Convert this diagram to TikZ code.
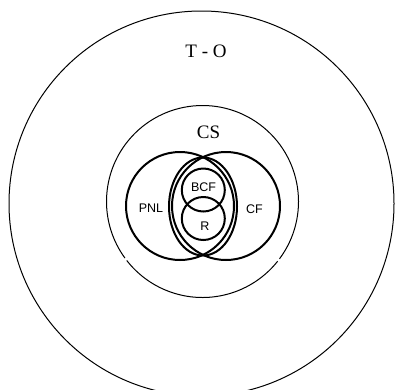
\documentclass[tikz,border=0pt]{standalone}
\usepackage{fontspec}
\setmainfont{Liberation Serif}
\newfontfamily\lsans{Liberation Sans}
\begin{document}
\begin{tikzpicture}[x=1pt,y=-1pt,
  thinline/.style={line width=1pt},
  thickline/.style={line width=2pt},
  seriflabel/.style={font=\fontsize{19}{19}\selectfont, inner sep=0pt},
  sanslabel/.style={font=\lsans\fontsize{12.5}{12.5}\selectfont, inner sep=0pt}]
\useasboundingbox (0,0) rectangle (395,389);
\clip (0,0) rectangle (395,389);
% outer circle T-O
\draw[thinline] (201.5,203.5) circle[radius=192.5pt];
% CS circle with two small gaps
\draw[thinline] (202.5,201.5) ++(-36.7:96pt) arc[start angle=-36.7, end angle=216.1, radius=96pt];
\draw[thinline] (202.5,201.5) ++(217.9:96pt) arc[start angle=217.9, end angle=321.5, radius=96pt];
% Venn circles
\draw[thickline] (180,206) circle[radius=54pt];
\draw[thickline] (226,206) circle[radius=54pt];
\draw[thickline] (203,206.5) ellipse[x radius=34pt, y radius=49pt];
\draw[thickline] (203.3,190) circle[radius=21.5pt];
\draw[thickline] (203.3,218.5) circle[radius=21.5pt];
% labels
\node[seriflabel] (to) at (206,51) {T - O};
\node[seriflabel] (cs) at (208.5,132) {CS};
\node[sanslabel] (pnl) at (151,208) {PNL};
\node[sanslabel] (cf) at (254.5,209) {CF};
\node[sanslabel] (bcf) at (203.5,187) {BCF};
\node[sanslabel] (r) at (205,226.5) {R};
\end{tikzpicture}
\end{document}
